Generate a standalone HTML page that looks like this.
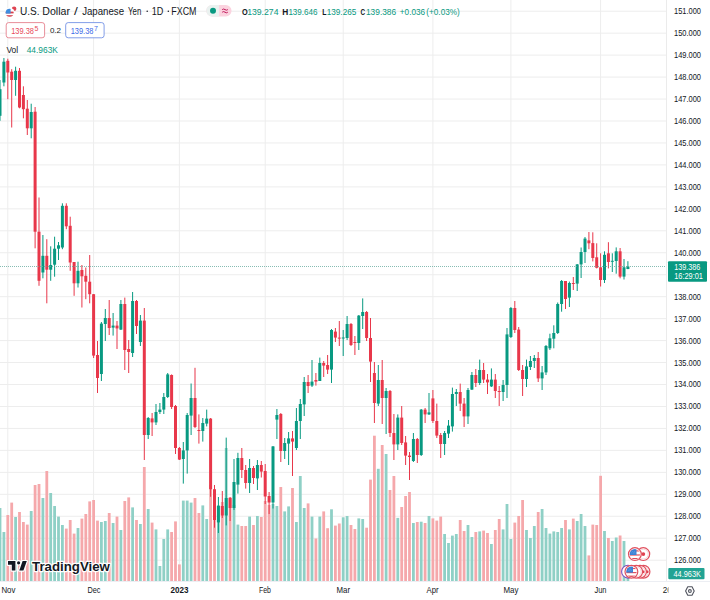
<!DOCTYPE html>
<html><head><meta charset="utf-8"><style>
html,body{margin:0;padding:0;background:#fff;}
body{width:710px;height:600px;overflow:hidden;font-family:"Liberation Sans",sans-serif;}
svg{display:block;font-family:"Liberation Sans",sans-serif;}
</style></head><body>
<svg width="710" height="600" viewBox="0 0 710 600">
<rect width="710" height="600" fill="#fff"/>
<g stroke="#ededed" stroke-width="1"><line x1="0" y1="560.2" x2="666.5" y2="560.2"/><line x1="0" y1="538.24" x2="666.5" y2="538.24"/><line x1="0" y1="516.28" x2="666.5" y2="516.28"/><line x1="0" y1="494.32" x2="666.5" y2="494.32"/><line x1="0" y1="472.36" x2="666.5" y2="472.36"/><line x1="0" y1="450.4" x2="666.5" y2="450.4"/><line x1="0" y1="428.44" x2="666.5" y2="428.44"/><line x1="0" y1="406.48" x2="666.5" y2="406.48"/><line x1="0" y1="384.52" x2="666.5" y2="384.52"/><line x1="0" y1="362.56" x2="666.5" y2="362.56"/><line x1="0" y1="340.6" x2="666.5" y2="340.6"/><line x1="0" y1="318.64" x2="666.5" y2="318.64"/><line x1="0" y1="296.68" x2="666.5" y2="296.68"/><line x1="0" y1="274.72" x2="666.5" y2="274.72"/><line x1="0" y1="252.76" x2="666.5" y2="252.76"/><line x1="0" y1="230.8" x2="666.5" y2="230.8"/><line x1="0" y1="208.84" x2="666.5" y2="208.84"/><line x1="0" y1="186.88" x2="666.5" y2="186.88"/><line x1="0" y1="164.92" x2="666.5" y2="164.92"/><line x1="0" y1="142.96" x2="666.5" y2="142.96"/><line x1="0" y1="121.0" x2="666.5" y2="121.0"/><line x1="0" y1="99.04" x2="666.5" y2="99.04"/><line x1="0" y1="77.08" x2="666.5" y2="77.08"/><line x1="0" y1="55.12" x2="666.5" y2="55.12"/><line x1="0" y1="33.16" x2="666.5" y2="33.16"/><line x1="0" y1="11.2" x2="666.5" y2="11.2"/><line x1="7.8" y1="0" x2="7.8" y2="581"/><line x1="93.6" y1="0" x2="93.6" y2="581"/><line x1="179.4" y1="0" x2="179.4" y2="581"/><line x1="265.2" y1="0" x2="265.2" y2="581"/><line x1="343.2" y1="0" x2="343.2" y2="581"/><line x1="432.9" y1="0" x2="432.9" y2="581"/><line x1="510.9" y1="0" x2="510.9" y2="581"/><line x1="600.6" y1="0" x2="600.6" y2="581"/></g>
<g><rect x="-1.40" y="508.0" width="2.8" height="73.0" fill="#8fd0c6"/><rect x="2.50" y="532.0" width="2.8" height="49.0" fill="#8fd0c6"/><rect x="6.40" y="515.0" width="2.8" height="66.0" fill="#f5a8ab"/><rect x="10.30" y="502.6" width="2.8" height="78.4" fill="#f5a8ab"/><rect x="14.20" y="517.0" width="2.8" height="64.0" fill="#8fd0c6"/><rect x="18.10" y="512.0" width="2.8" height="69.0" fill="#f5a8ab"/><rect x="22.00" y="522.0" width="2.8" height="59.0" fill="#f5a8ab"/><rect x="25.90" y="524.6" width="2.8" height="56.4" fill="#f5a8ab"/><rect x="29.80" y="511.0" width="2.8" height="70.0" fill="#8fd0c6"/><rect x="33.70" y="485.0" width="2.8" height="96.0" fill="#f5a8ab"/><rect x="37.60" y="484.0" width="2.8" height="97.0" fill="#f5a8ab"/><rect x="41.50" y="498.0" width="2.8" height="83.0" fill="#8fd0c6"/><rect x="45.40" y="471.0" width="2.8" height="110.0" fill="#f5a8ab"/><rect x="49.30" y="493.0" width="2.8" height="88.0" fill="#8fd0c6"/><rect x="53.20" y="506.0" width="2.8" height="75.0" fill="#8fd0c6"/><rect x="57.10" y="516.6" width="2.8" height="64.4" fill="#8fd0c6"/><rect x="61.00" y="525.0" width="2.8" height="56.0" fill="#8fd0c6"/><rect x="64.90" y="528.6" width="2.8" height="52.4" fill="#f5a8ab"/><rect x="68.80" y="520.0" width="2.8" height="61.0" fill="#f5a8ab"/><rect x="72.70" y="533.6" width="2.8" height="47.4" fill="#f5a8ab"/><rect x="76.60" y="528.0" width="2.8" height="53.0" fill="#8fd0c6"/><rect x="80.50" y="518.6" width="2.8" height="62.4" fill="#f5a8ab"/><rect x="84.40" y="514.0" width="2.8" height="67.0" fill="#f5a8ab"/><rect x="88.30" y="501.4" width="2.8" height="79.6" fill="#f5a8ab"/><rect x="92.20" y="500.0" width="2.8" height="81.0" fill="#f5a8ab"/><rect x="96.10" y="520.6" width="2.8" height="60.4" fill="#f5a8ab"/><rect x="100.00" y="522.0" width="2.8" height="59.0" fill="#8fd0c6"/><rect x="103.90" y="521.0" width="2.8" height="60.0" fill="#8fd0c6"/><rect x="107.80" y="513.0" width="2.8" height="68.0" fill="#f5a8ab"/><rect x="111.70" y="523.0" width="2.8" height="58.0" fill="#8fd0c6"/><rect x="115.60" y="516.6" width="2.8" height="64.4" fill="#f5a8ab"/><rect x="119.50" y="530.0" width="2.8" height="51.0" fill="#8fd0c6"/><rect x="123.40" y="501.0" width="2.8" height="80.0" fill="#f5a8ab"/><rect x="127.30" y="497.4" width="2.8" height="83.6" fill="#f5a8ab"/><rect x="131.20" y="507.4" width="2.8" height="73.6" fill="#8fd0c6"/><rect x="135.10" y="520.0" width="2.8" height="61.0" fill="#f5a8ab"/><rect x="139.00" y="524.0" width="2.8" height="57.0" fill="#8fd0c6"/><rect x="142.90" y="467.0" width="2.8" height="114.0" fill="#f5a8ab"/><rect x="146.80" y="509.0" width="2.8" height="72.0" fill="#8fd0c6"/><rect x="150.70" y="522.6" width="2.8" height="58.4" fill="#f5a8ab"/><rect x="154.60" y="529.4" width="2.8" height="51.6" fill="#8fd0c6"/><rect x="158.50" y="566.0" width="2.8" height="15.0" fill="#8fd0c6"/><rect x="162.40" y="539.0" width="2.8" height="42.0" fill="#8fd0c6"/><rect x="166.30" y="529.4" width="2.8" height="51.6" fill="#8fd0c6"/><rect x="170.20" y="532.0" width="2.8" height="49.0" fill="#f5a8ab"/><rect x="174.10" y="521.4" width="2.8" height="59.6" fill="#f5a8ab"/><rect x="178.00" y="564.4" width="2.8" height="16.6" fill="#f5a8ab"/><rect x="181.90" y="500.6" width="2.8" height="80.4" fill="#8fd0c6"/><rect x="185.80" y="500.6" width="2.8" height="80.4" fill="#8fd0c6"/><rect x="189.70" y="502.6" width="2.8" height="78.4" fill="#8fd0c6"/><rect x="193.60" y="498.0" width="2.8" height="83.0" fill="#f5a8ab"/><rect x="197.50" y="513.0" width="2.8" height="68.0" fill="#f5a8ab"/><rect x="201.40" y="505.4" width="2.8" height="75.6" fill="#8fd0c6"/><rect x="205.30" y="519.0" width="2.8" height="62.0" fill="#8fd0c6"/><rect x="209.20" y="485.0" width="2.8" height="96.0" fill="#f5a8ab"/><rect x="213.10" y="491.0" width="2.8" height="90.0" fill="#f5a8ab"/><rect x="217.00" y="505.0" width="2.8" height="76.0" fill="#8fd0c6"/><rect x="220.90" y="502.0" width="2.8" height="79.0" fill="#f5a8ab"/><rect x="224.80" y="448.0" width="2.8" height="133.0" fill="#8fd0c6"/><rect x="228.70" y="498.0" width="2.8" height="83.0" fill="#f5a8ab"/><rect x="232.60" y="505.0" width="2.8" height="76.0" fill="#8fd0c6"/><rect x="236.50" y="524.6" width="2.8" height="56.4" fill="#8fd0c6"/><rect x="240.40" y="526.0" width="2.8" height="55.0" fill="#f5a8ab"/><rect x="244.30" y="526.0" width="2.8" height="55.0" fill="#f5a8ab"/><rect x="248.20" y="516.6" width="2.8" height="64.4" fill="#8fd0c6"/><rect x="252.10" y="525.0" width="2.8" height="56.0" fill="#f5a8ab"/><rect x="256.00" y="516.0" width="2.8" height="65.0" fill="#8fd0c6"/><rect x="259.90" y="517.0" width="2.8" height="64.0" fill="#f5a8ab"/><rect x="263.80" y="501.0" width="2.8" height="80.0" fill="#f5a8ab"/><rect x="267.70" y="505.0" width="2.8" height="76.0" fill="#f5a8ab"/><rect x="271.60" y="504.0" width="2.8" height="77.0" fill="#8fd0c6"/><rect x="275.50" y="506.0" width="2.8" height="75.0" fill="#8fd0c6"/><rect x="279.40" y="487.0" width="2.8" height="94.0" fill="#f5a8ab"/><rect x="283.30" y="511.4" width="2.8" height="69.6" fill="#8fd0c6"/><rect x="287.20" y="506.4" width="2.8" height="74.6" fill="#8fd0c6"/><rect x="291.10" y="488.0" width="2.8" height="93.0" fill="#f5a8ab"/><rect x="295.00" y="522.0" width="2.8" height="59.0" fill="#8fd0c6"/><rect x="298.90" y="476.0" width="2.8" height="105.0" fill="#8fd0c6"/><rect x="302.80" y="508.0" width="2.8" height="73.0" fill="#8fd0c6"/><rect x="306.70" y="503.4" width="2.8" height="77.6" fill="#f5a8ab"/><rect x="310.60" y="516.6" width="2.8" height="64.4" fill="#8fd0c6"/><rect x="314.50" y="538.5" width="2.8" height="42.5" fill="#f5a8ab"/><rect x="318.40" y="516.6" width="2.8" height="64.4" fill="#8fd0c6"/><rect x="322.30" y="511.4" width="2.8" height="69.6" fill="#f5a8ab"/><rect x="326.20" y="528.2" width="2.8" height="52.8" fill="#f5a8ab"/><rect x="330.10" y="509.3" width="2.8" height="71.7" fill="#8fd0c6"/><rect x="334.00" y="525.6" width="2.8" height="55.4" fill="#f5a8ab"/><rect x="337.90" y="523.5" width="2.8" height="57.5" fill="#f5a8ab"/><rect x="341.80" y="517.3" width="2.8" height="63.7" fill="#8fd0c6"/><rect x="345.70" y="516.0" width="2.8" height="65.0" fill="#8fd0c6"/><rect x="349.60" y="525.0" width="2.8" height="56.0" fill="#f5a8ab"/><rect x="353.50" y="529.0" width="2.8" height="52.0" fill="#f5a8ab"/><rect x="357.40" y="518.4" width="2.8" height="62.6" fill="#8fd0c6"/><rect x="361.30" y="519.0" width="2.8" height="62.0" fill="#8fd0c6"/><rect x="365.20" y="527.7" width="2.8" height="53.3" fill="#f5a8ab"/><rect x="369.10" y="479.6" width="2.8" height="101.4" fill="#f5a8ab"/><rect x="373.00" y="435.7" width="2.8" height="145.3" fill="#f5a8ab"/><rect x="376.90" y="468.8" width="2.8" height="112.2" fill="#8fd0c6"/><rect x="380.80" y="445.0" width="2.8" height="136.0" fill="#f5a8ab"/><rect x="384.70" y="454.0" width="2.8" height="127.0" fill="#8fd0c6"/><rect x="388.60" y="490.0" width="2.8" height="91.0" fill="#f5a8ab"/><rect x="392.50" y="476.0" width="2.8" height="105.0" fill="#f5a8ab"/><rect x="396.40" y="517.9" width="2.8" height="63.1" fill="#8fd0c6"/><rect x="400.30" y="507.0" width="2.8" height="74.0" fill="#f5a8ab"/><rect x="404.20" y="496.0" width="2.8" height="85.0" fill="#f5a8ab"/><rect x="408.10" y="492.0" width="2.8" height="89.0" fill="#f5a8ab"/><rect x="412.00" y="523.0" width="2.8" height="58.0" fill="#8fd0c6"/><rect x="415.90" y="522.0" width="2.8" height="59.0" fill="#f5a8ab"/><rect x="419.80" y="521.7" width="2.8" height="59.3" fill="#8fd0c6"/><rect x="423.70" y="523.0" width="2.8" height="58.0" fill="#f5a8ab"/><rect x="427.60" y="516.0" width="2.8" height="65.0" fill="#8fd0c6"/><rect x="431.50" y="518.4" width="2.8" height="62.6" fill="#f5a8ab"/><rect x="435.40" y="520.6" width="2.8" height="60.4" fill="#f5a8ab"/><rect x="439.30" y="516.6" width="2.8" height="64.4" fill="#f5a8ab"/><rect x="443.20" y="534.0" width="2.8" height="47.0" fill="#8fd0c6"/><rect x="447.10" y="543.0" width="2.8" height="38.0" fill="#8fd0c6"/><rect x="451.00" y="535.6" width="2.8" height="45.4" fill="#8fd0c6"/><rect x="454.90" y="534.0" width="2.8" height="47.0" fill="#8fd0c6"/><rect x="458.80" y="520.0" width="2.8" height="61.0" fill="#f5a8ab"/><rect x="462.70" y="531.0" width="2.8" height="50.0" fill="#f5a8ab"/><rect x="466.60" y="525.0" width="2.8" height="56.0" fill="#8fd0c6"/><rect x="470.50" y="537.0" width="2.8" height="44.0" fill="#8fd0c6"/><rect x="474.40" y="532.0" width="2.8" height="49.0" fill="#f5a8ab"/><rect x="478.30" y="531.4" width="2.8" height="49.6" fill="#8fd0c6"/><rect x="482.20" y="530.6" width="2.8" height="50.4" fill="#f5a8ab"/><rect x="486.10" y="533.0" width="2.8" height="48.0" fill="#f5a8ab"/><rect x="490.00" y="544.0" width="2.8" height="37.0" fill="#8fd0c6"/><rect x="493.90" y="530.0" width="2.8" height="51.0" fill="#f5a8ab"/><rect x="497.80" y="519.0" width="2.8" height="62.0" fill="#f5a8ab"/><rect x="501.70" y="529.4" width="2.8" height="51.6" fill="#8fd0c6"/><rect x="505.60" y="504.0" width="2.8" height="77.0" fill="#8fd0c6"/><rect x="509.50" y="539.0" width="2.8" height="42.0" fill="#8fd0c6"/><rect x="513.40" y="522.6" width="2.8" height="58.4" fill="#f5a8ab"/><rect x="517.30" y="516.0" width="2.8" height="65.0" fill="#f5a8ab"/><rect x="521.20" y="500.0" width="2.8" height="81.0" fill="#f5a8ab"/><rect x="525.10" y="530.0" width="2.8" height="51.0" fill="#8fd0c6"/><rect x="529.00" y="538.0" width="2.8" height="43.0" fill="#8fd0c6"/><rect x="532.90" y="526.0" width="2.8" height="55.0" fill="#8fd0c6"/><rect x="536.80" y="512.0" width="2.8" height="69.0" fill="#f5a8ab"/><rect x="540.70" y="509.0" width="2.8" height="72.0" fill="#8fd0c6"/><rect x="544.60" y="528.0" width="2.8" height="53.0" fill="#8fd0c6"/><rect x="548.50" y="533.6" width="2.8" height="47.4" fill="#8fd0c6"/><rect x="552.40" y="531.4" width="2.8" height="49.6" fill="#8fd0c6"/><rect x="556.30" y="532.0" width="2.8" height="49.0" fill="#8fd0c6"/><rect x="560.20" y="528.0" width="2.8" height="53.0" fill="#8fd0c6"/><rect x="564.10" y="520.0" width="2.8" height="61.0" fill="#f5a8ab"/><rect x="568.00" y="529.4" width="2.8" height="51.6" fill="#8fd0c6"/><rect x="571.90" y="518.6" width="2.8" height="62.4" fill="#f5a8ab"/><rect x="575.80" y="521.0" width="2.8" height="60.0" fill="#8fd0c6"/><rect x="579.70" y="514.0" width="2.8" height="67.0" fill="#8fd0c6"/><rect x="583.60" y="526.0" width="2.8" height="55.0" fill="#8fd0c6"/><rect x="587.50" y="555.4" width="2.8" height="25.6" fill="#f5a8ab"/><rect x="591.40" y="524.6" width="2.8" height="56.4" fill="#f5a8ab"/><rect x="595.30" y="525.0" width="2.8" height="56.0" fill="#f5a8ab"/><rect x="599.20" y="475.8" width="2.8" height="105.2" fill="#f5a8ab"/><rect x="603.10" y="531.0" width="2.8" height="50.0" fill="#8fd0c6"/><rect x="607.00" y="538.0" width="2.8" height="43.0" fill="#f5a8ab"/><rect x="610.90" y="541.0" width="2.8" height="40.0" fill="#8fd0c6"/><rect x="614.80" y="537.5" width="2.8" height="43.5" fill="#8fd0c6"/><rect x="618.70" y="535.5" width="2.8" height="45.5" fill="#f5a8ab"/><rect x="622.60" y="541.0" width="2.8" height="40.0" fill="#8fd0c6"/><rect x="626.50" y="577.0" width="2.8" height="4.0" fill="#8fd0c6"/></g>
<g><rect x="-0.50" y="80.0" width="1" height="40.8" fill="#089981"/><rect x="-1.50" y="89.2" width="3" height="26.6" fill="#089981"/><rect x="3.40" y="58.0" width="1" height="28.3" fill="#089981"/><rect x="2.40" y="61.7" width="3" height="20.8" fill="#089981"/><rect x="7.30" y="58.7" width="1" height="40.5" fill="#e8374a"/><rect x="6.30" y="60.8" width="3" height="11.7" fill="#e8374a"/><rect x="11.20" y="69.2" width="1" height="58.3" fill="#e8374a"/><rect x="10.20" y="71.7" width="3" height="8.3" fill="#e8374a"/><rect x="15.10" y="66.7" width="1" height="29.1" fill="#089981"/><rect x="14.10" y="70.8" width="3" height="9.2" fill="#089981"/><rect x="19.00" y="68.0" width="1" height="40.3" fill="#e8374a"/><rect x="18.00" y="70.8" width="3" height="36.7" fill="#e8374a"/><rect x="22.90" y="86.3" width="1" height="32.0" fill="#e8374a"/><rect x="21.90" y="95.0" width="3" height="14.2" fill="#e8374a"/><rect x="26.80" y="100.0" width="1" height="35.0" fill="#e8374a"/><rect x="25.80" y="108.7" width="3" height="19.6" fill="#e8374a"/><rect x="30.70" y="103.7" width="1" height="34.6" fill="#089981"/><rect x="29.70" y="112.0" width="3" height="16.3" fill="#089981"/><rect x="34.60" y="107.0" width="1" height="141.3" fill="#e8374a"/><rect x="33.60" y="111.7" width="3" height="120.0" fill="#e8374a"/><rect x="38.50" y="197.5" width="1" height="88.3" fill="#e8374a"/><rect x="37.50" y="231.7" width="3" height="49.1" fill="#e8374a"/><rect x="42.40" y="235.0" width="1" height="43.3" fill="#089981"/><rect x="41.40" y="255.8" width="3" height="16.7" fill="#089981"/><rect x="46.30" y="239.2" width="1" height="64.1" fill="#e8374a"/><rect x="45.30" y="255.8" width="3" height="13.9" fill="#e8374a"/><rect x="50.20" y="246.3" width="1" height="34.5" fill="#089981"/><rect x="49.20" y="265.0" width="3" height="4.7" fill="#089981"/><rect x="54.10" y="236.7" width="1" height="40.0" fill="#089981"/><rect x="53.10" y="248.7" width="3" height="16.0" fill="#089981"/><rect x="58.00" y="242.0" width="1" height="18.0" fill="#089981"/><rect x="57.00" y="245.3" width="3" height="3.4" fill="#089981"/><rect x="61.90" y="203.3" width="1" height="45.9" fill="#089981"/><rect x="60.90" y="205.8" width="3" height="41.7" fill="#089981"/><rect x="65.80" y="203.3" width="1" height="25.9" fill="#e8374a"/><rect x="64.80" y="205.8" width="3" height="20.5" fill="#e8374a"/><rect x="69.70" y="216.7" width="1" height="54.1" fill="#e8374a"/><rect x="68.70" y="225.8" width="3" height="36.7" fill="#e8374a"/><rect x="73.60" y="262.0" width="1" height="33.8" fill="#e8374a"/><rect x="72.60" y="262.0" width="3" height="21.3" fill="#e8374a"/><rect x="77.50" y="261.7" width="1" height="25.8" fill="#089981"/><rect x="76.50" y="270.8" width="3" height="12.5" fill="#089981"/><rect x="81.40" y="265.0" width="1" height="42.5" fill="#e8374a"/><rect x="80.40" y="270.0" width="3" height="6.3" fill="#e8374a"/><rect x="85.30" y="267.5" width="1" height="31.7" fill="#e8374a"/><rect x="84.30" y="275.8" width="3" height="5.9" fill="#e8374a"/><rect x="89.20" y="255.0" width="1" height="48.3" fill="#e8374a"/><rect x="88.20" y="281.7" width="3" height="12.5" fill="#e8374a"/><rect x="93.10" y="294.0" width="1" height="64.0" fill="#e8374a"/><rect x="92.10" y="294.2" width="3" height="61.4" fill="#e8374a"/><rect x="97.00" y="341.0" width="1" height="52.0" fill="#e8374a"/><rect x="96.00" y="355.0" width="3" height="23.0" fill="#e8374a"/><rect x="100.90" y="322.0" width="1" height="59.0" fill="#089981"/><rect x="99.90" y="323.6" width="3" height="50.4" fill="#089981"/><rect x="104.80" y="309.0" width="1" height="32.0" fill="#089981"/><rect x="103.80" y="318.0" width="3" height="6.0" fill="#089981"/><rect x="108.70" y="300.0" width="1" height="35.0" fill="#e8374a"/><rect x="107.70" y="318.0" width="3" height="10.0" fill="#e8374a"/><rect x="112.60" y="313.0" width="1" height="22.6" fill="#089981"/><rect x="111.60" y="325.6" width="3" height="2.0" fill="#089981"/><rect x="116.50" y="321.0" width="1" height="28.0" fill="#e8374a"/><rect x="115.50" y="325.6" width="3" height="2.8" fill="#e8374a"/><rect x="120.40" y="300.0" width="1" height="30.0" fill="#089981"/><rect x="119.40" y="304.0" width="3" height="25.6" fill="#089981"/><rect x="124.30" y="297.6" width="1" height="72.4" fill="#e8374a"/><rect x="123.30" y="304.0" width="3" height="46.0" fill="#e8374a"/><rect x="128.20" y="340.0" width="1" height="33.0" fill="#e8374a"/><rect x="127.20" y="349.0" width="3" height="3.0" fill="#e8374a"/><rect x="132.10" y="292.0" width="1" height="65.0" fill="#089981"/><rect x="131.10" y="301.0" width="3" height="52.0" fill="#089981"/><rect x="136.00" y="300.0" width="1" height="34.0" fill="#e8374a"/><rect x="135.00" y="301.0" width="3" height="25.0" fill="#e8374a"/><rect x="139.90" y="315.0" width="1" height="31.0" fill="#089981"/><rect x="138.90" y="320.6" width="3" height="21.4" fill="#089981"/><rect x="143.80" y="308.0" width="1" height="152.0" fill="#e8374a"/><rect x="142.80" y="320.6" width="3" height="114.4" fill="#e8374a"/><rect x="147.70" y="417.0" width="1" height="22.0" fill="#089981"/><rect x="146.70" y="418.0" width="3" height="17.0" fill="#089981"/><rect x="151.60" y="413.0" width="1" height="23.0" fill="#e8374a"/><rect x="150.60" y="418.4" width="3" height="4.0" fill="#e8374a"/><rect x="155.50" y="404.0" width="1" height="21.0" fill="#089981"/><rect x="154.50" y="412.0" width="3" height="10.4" fill="#089981"/><rect x="159.40" y="403.0" width="1" height="11.0" fill="#089981"/><rect x="158.40" y="409.6" width="3" height="2.4" fill="#089981"/><rect x="163.30" y="393.0" width="1" height="21.0" fill="#089981"/><rect x="162.30" y="397.0" width="3" height="12.6" fill="#089981"/><rect x="167.20" y="373.0" width="1" height="25.0" fill="#089981"/><rect x="166.20" y="374.4" width="3" height="22.6" fill="#089981"/><rect x="171.10" y="374.4" width="1" height="34.6" fill="#e8374a"/><rect x="170.10" y="375.0" width="3" height="32.0" fill="#e8374a"/><rect x="175.00" y="405.0" width="1" height="49.0" fill="#e8374a"/><rect x="174.00" y="406.0" width="3" height="42.0" fill="#e8374a"/><rect x="178.90" y="447.0" width="1" height="13.0" fill="#e8374a"/><rect x="177.90" y="448.0" width="3" height="11.6" fill="#e8374a"/><rect x="182.80" y="442.0" width="1" height="41.6" fill="#089981"/><rect x="181.80" y="450.4" width="3" height="8.6" fill="#089981"/><rect x="186.70" y="413.0" width="1" height="60.6" fill="#089981"/><rect x="185.70" y="415.0" width="3" height="35.4" fill="#089981"/><rect x="190.60" y="383.5" width="1" height="51.5" fill="#089981"/><rect x="189.60" y="398.0" width="3" height="17.6" fill="#089981"/><rect x="194.50" y="367.8" width="1" height="60.2" fill="#e8374a"/><rect x="193.50" y="398.0" width="3" height="29.0" fill="#e8374a"/><rect x="198.40" y="414.4" width="1" height="29.2" fill="#e8374a"/><rect x="197.40" y="430.0" width="3" height="1.0" fill="#e8374a"/><rect x="202.30" y="418.0" width="1" height="23.6" fill="#089981"/><rect x="201.30" y="423.0" width="3" height="8.0" fill="#089981"/><rect x="206.20" y="409.6" width="1" height="16.8" fill="#089981"/><rect x="205.20" y="418.6" width="3" height="5.0" fill="#089981"/><rect x="210.10" y="418.0" width="1" height="78.8" fill="#e8374a"/><rect x="209.10" y="418.6" width="3" height="70.6" fill="#e8374a"/><rect x="214.00" y="485.0" width="1" height="42.7" fill="#e8374a"/><rect x="213.00" y="489.2" width="3" height="30.8" fill="#e8374a"/><rect x="217.90" y="497.0" width="1" height="36.0" fill="#089981"/><rect x="216.90" y="506.0" width="3" height="16.4" fill="#089981"/><rect x="221.80" y="491.0" width="1" height="27.0" fill="#e8374a"/><rect x="220.80" y="506.0" width="3" height="9.5" fill="#e8374a"/><rect x="225.70" y="437.6" width="1" height="87.8" fill="#089981"/><rect x="224.70" y="498.0" width="3" height="17.5" fill="#089981"/><rect x="229.60" y="497.0" width="1" height="24.0" fill="#e8374a"/><rect x="228.60" y="497.7" width="3" height="10.3" fill="#e8374a"/><rect x="233.50" y="459.0" width="1" height="51.0" fill="#089981"/><rect x="232.50" y="482.0" width="3" height="26.0" fill="#089981"/><rect x="237.40" y="452.8" width="1" height="40.8" fill="#089981"/><rect x="236.40" y="458.0" width="3" height="26.6" fill="#089981"/><rect x="241.30" y="448.0" width="1" height="30.0" fill="#e8374a"/><rect x="240.30" y="458.0" width="3" height="12.0" fill="#e8374a"/><rect x="245.20" y="465.0" width="1" height="23.6" fill="#e8374a"/><rect x="244.20" y="470.0" width="3" height="13.0" fill="#e8374a"/><rect x="249.10" y="459.0" width="1" height="34.0" fill="#089981"/><rect x="248.10" y="468.0" width="3" height="15.0" fill="#089981"/><rect x="253.00" y="466.0" width="1" height="18.0" fill="#e8374a"/><rect x="252.00" y="468.0" width="3" height="10.0" fill="#e8374a"/><rect x="256.90" y="460.0" width="1" height="30.0" fill="#089981"/><rect x="255.90" y="465.0" width="3" height="13.4" fill="#089981"/><rect x="260.80" y="461.0" width="1" height="16.5" fill="#e8374a"/><rect x="259.80" y="465.0" width="3" height="6.6" fill="#e8374a"/><rect x="264.70" y="464.0" width="1" height="40.0" fill="#e8374a"/><rect x="263.70" y="471.0" width="3" height="25.5" fill="#e8374a"/><rect x="268.60" y="492.0" width="1" height="22.0" fill="#e8374a"/><rect x="267.60" y="496.0" width="3" height="6.5" fill="#e8374a"/><rect x="272.50" y="446.0" width="1" height="62.5" fill="#089981"/><rect x="271.50" y="446.4" width="3" height="56.1" fill="#089981"/><rect x="276.40" y="409.0" width="1" height="30.0" fill="#089981"/><rect x="275.40" y="415.0" width="3" height="4.6" fill="#089981"/><rect x="280.30" y="413.0" width="1" height="49.0" fill="#e8374a"/><rect x="279.30" y="414.0" width="3" height="37.0" fill="#e8374a"/><rect x="284.20" y="438.0" width="1" height="21.0" fill="#089981"/><rect x="283.20" y="443.0" width="3" height="8.0" fill="#089981"/><rect x="288.10" y="432.0" width="1" height="33.0" fill="#089981"/><rect x="287.10" y="438.4" width="3" height="5.2" fill="#089981"/><rect x="292.00" y="431.0" width="1" height="45.0" fill="#e8374a"/><rect x="291.00" y="438.4" width="3" height="3.2" fill="#e8374a"/><rect x="295.90" y="408.0" width="1" height="42.0" fill="#089981"/><rect x="294.90" y="421.0" width="3" height="27.0" fill="#089981"/><rect x="299.80" y="399.0" width="1" height="40.0" fill="#089981"/><rect x="298.80" y="404.0" width="3" height="17.0" fill="#089981"/><rect x="303.70" y="377.0" width="1" height="39.0" fill="#089981"/><rect x="302.70" y="382.0" width="3" height="22.4" fill="#089981"/><rect x="307.60" y="375.0" width="1" height="18.0" fill="#e8374a"/><rect x="306.60" y="382.0" width="3" height="4.0" fill="#e8374a"/><rect x="311.50" y="360.0" width="1" height="27.0" fill="#089981"/><rect x="310.50" y="381.6" width="3" height="4.0" fill="#089981"/><rect x="315.40" y="373.0" width="1" height="12.6" fill="#e8374a"/><rect x="314.40" y="380.0" width="3" height="1.6" fill="#e8374a"/><rect x="319.30" y="357.6" width="1" height="23.4" fill="#089981"/><rect x="318.30" y="363.0" width="3" height="18.0" fill="#089981"/><rect x="323.20" y="361.0" width="1" height="16.0" fill="#e8374a"/><rect x="322.20" y="363.0" width="3" height="2.6" fill="#e8374a"/><rect x="327.10" y="355.0" width="1" height="19.0" fill="#e8374a"/><rect x="326.10" y="365.0" width="3" height="4.6" fill="#e8374a"/><rect x="331.00" y="329.0" width="1" height="54.0" fill="#089981"/><rect x="330.00" y="330.0" width="3" height="39.6" fill="#089981"/><rect x="334.90" y="328.0" width="1" height="14.0" fill="#e8374a"/><rect x="333.90" y="331.6" width="3" height="6.0" fill="#e8374a"/><rect x="338.80" y="321.0" width="1" height="25.0" fill="#e8374a"/><rect x="337.80" y="337.6" width="3" height="1.0" fill="#e8374a"/><rect x="342.70" y="330.0" width="1" height="26.0" fill="#089981"/><rect x="341.70" y="337.5" width="3" height="1.0" fill="#089981"/><rect x="346.60" y="316.0" width="1" height="24.0" fill="#089981"/><rect x="345.60" y="324.0" width="3" height="14.0" fill="#089981"/><rect x="350.50" y="323.0" width="1" height="23.0" fill="#e8374a"/><rect x="349.50" y="324.0" width="3" height="21.0" fill="#e8374a"/><rect x="354.40" y="336.0" width="1" height="19.0" fill="#e8374a"/><rect x="353.40" y="342.0" width="3" height="1.0" fill="#e8374a"/><rect x="358.30" y="315.0" width="1" height="35.0" fill="#089981"/><rect x="357.30" y="315.6" width="3" height="27.4" fill="#089981"/><rect x="362.20" y="298.4" width="1" height="30.6" fill="#089981"/><rect x="361.20" y="312.0" width="3" height="4.0" fill="#089981"/><rect x="366.10" y="311.0" width="1" height="30.0" fill="#e8374a"/><rect x="365.10" y="312.0" width="3" height="26.0" fill="#e8374a"/><rect x="370.00" y="318.0" width="1" height="64.0" fill="#e8374a"/><rect x="369.00" y="338.0" width="3" height="23.6" fill="#e8374a"/><rect x="373.90" y="362.0" width="1" height="61.0" fill="#e8374a"/><rect x="372.90" y="373.0" width="3" height="30.0" fill="#e8374a"/><rect x="377.80" y="365.0" width="1" height="41.0" fill="#089981"/><rect x="376.80" y="380.0" width="3" height="23.6" fill="#089981"/><rect x="381.70" y="360.0" width="1" height="64.0" fill="#e8374a"/><rect x="380.70" y="380.0" width="3" height="18.0" fill="#e8374a"/><rect x="385.60" y="388.0" width="1" height="46.0" fill="#089981"/><rect x="384.60" y="391.0" width="3" height="7.0" fill="#089981"/><rect x="389.50" y="390.0" width="1" height="47.0" fill="#e8374a"/><rect x="388.50" y="391.0" width="3" height="42.0" fill="#e8374a"/><rect x="393.40" y="414.0" width="1" height="46.0" fill="#e8374a"/><rect x="392.40" y="433.0" width="3" height="11.4" fill="#e8374a"/><rect x="397.30" y="414.4" width="1" height="35.6" fill="#089981"/><rect x="396.30" y="417.6" width="3" height="26.8" fill="#089981"/><rect x="401.20" y="406.0" width="1" height="39.0" fill="#e8374a"/><rect x="400.20" y="417.6" width="3" height="25.4" fill="#e8374a"/><rect x="405.10" y="436.0" width="1" height="29.0" fill="#e8374a"/><rect x="404.10" y="442.4" width="3" height="13.2" fill="#e8374a"/><rect x="409.00" y="452.0" width="1" height="28.0" fill="#e8374a"/><rect x="408.00" y="455.6" width="3" height="1.4" fill="#e8374a"/><rect x="412.90" y="433.0" width="1" height="29.0" fill="#089981"/><rect x="411.90" y="439.0" width="3" height="22.0" fill="#089981"/><rect x="416.80" y="438.0" width="1" height="25.0" fill="#e8374a"/><rect x="415.80" y="439.0" width="3" height="16.0" fill="#e8374a"/><rect x="420.70" y="409.0" width="1" height="47.0" fill="#089981"/><rect x="419.70" y="409.6" width="3" height="45.4" fill="#089981"/><rect x="424.60" y="408.0" width="1" height="15.0" fill="#e8374a"/><rect x="423.60" y="409.6" width="3" height="4.8" fill="#e8374a"/><rect x="428.50" y="393.0" width="1" height="22.0" fill="#089981"/><rect x="427.50" y="412.4" width="3" height="2.0" fill="#089981"/><rect x="432.40" y="390.0" width="1" height="33.0" fill="#e8374a"/><rect x="431.40" y="398.4" width="3" height="22.6" fill="#e8374a"/><rect x="436.30" y="403.6" width="1" height="34.4" fill="#e8374a"/><rect x="435.30" y="421.0" width="3" height="14.6" fill="#e8374a"/><rect x="440.20" y="433.0" width="1" height="25.0" fill="#e8374a"/><rect x="439.20" y="435.0" width="3" height="9.0" fill="#e8374a"/><rect x="444.10" y="431.0" width="1" height="24.0" fill="#089981"/><rect x="443.10" y="433.0" width="3" height="11.0" fill="#089981"/><rect x="448.00" y="420.0" width="1" height="18.0" fill="#089981"/><rect x="447.00" y="425.6" width="3" height="8.0" fill="#089981"/><rect x="451.90" y="387.6" width="1" height="44.0" fill="#089981"/><rect x="450.90" y="394.0" width="3" height="32.4" fill="#089981"/><rect x="455.80" y="389.0" width="1" height="17.0" fill="#089981"/><rect x="454.80" y="392.0" width="3" height="2.0" fill="#089981"/><rect x="459.70" y="383.6" width="1" height="27.4" fill="#e8374a"/><rect x="458.70" y="392.0" width="3" height="11.6" fill="#e8374a"/><rect x="463.60" y="398.0" width="1" height="29.0" fill="#e8374a"/><rect x="462.60" y="403.6" width="3" height="12.8" fill="#e8374a"/><rect x="467.50" y="388.0" width="1" height="36.0" fill="#089981"/><rect x="466.50" y="390.0" width="3" height="26.4" fill="#089981"/><rect x="471.40" y="372.0" width="1" height="18.0" fill="#089981"/><rect x="470.40" y="375.0" width="3" height="14.6" fill="#089981"/><rect x="475.30" y="369.0" width="1" height="18.0" fill="#e8374a"/><rect x="474.30" y="375.0" width="3" height="8.0" fill="#e8374a"/><rect x="479.20" y="359.6" width="1" height="25.4" fill="#089981"/><rect x="478.20" y="370.0" width="3" height="13.0" fill="#089981"/><rect x="483.10" y="363.0" width="1" height="20.0" fill="#e8374a"/><rect x="482.10" y="370.0" width="3" height="9.6" fill="#e8374a"/><rect x="487.00" y="374.0" width="1" height="20.0" fill="#e8374a"/><rect x="486.00" y="379.6" width="3" height="2.8" fill="#e8374a"/><rect x="490.90" y="368.4" width="1" height="18.6" fill="#089981"/><rect x="489.90" y="379.6" width="3" height="6.8" fill="#089981"/><rect x="494.80" y="374.0" width="1" height="24.0" fill="#e8374a"/><rect x="493.80" y="379.6" width="3" height="11.4" fill="#e8374a"/><rect x="498.70" y="386.0" width="1" height="20.0" fill="#e8374a"/><rect x="497.70" y="391.0" width="3" height="1.0" fill="#e8374a"/><rect x="502.60" y="380.0" width="1" height="21.0" fill="#089981"/><rect x="501.60" y="385.0" width="3" height="7.0" fill="#089981"/><rect x="506.50" y="328.0" width="1" height="70.0" fill="#089981"/><rect x="505.50" y="334.4" width="3" height="50.6" fill="#089981"/><rect x="510.40" y="307.0" width="1" height="31.0" fill="#089981"/><rect x="509.40" y="308.0" width="3" height="29.0" fill="#089981"/><rect x="514.30" y="301.0" width="1" height="32.0" fill="#e8374a"/><rect x="513.30" y="308.0" width="3" height="22.0" fill="#e8374a"/><rect x="518.20" y="327.0" width="1" height="44.0" fill="#e8374a"/><rect x="517.20" y="329.6" width="3" height="40.4" fill="#e8374a"/><rect x="522.10" y="365.0" width="1" height="31.0" fill="#e8374a"/><rect x="521.10" y="370.0" width="3" height="9.0" fill="#e8374a"/><rect x="526.00" y="359.6" width="1" height="27.4" fill="#089981"/><rect x="525.00" y="366.4" width="3" height="12.6" fill="#089981"/><rect x="529.90" y="356.0" width="1" height="14.0" fill="#089981"/><rect x="528.90" y="361.0" width="3" height="6.0" fill="#089981"/><rect x="533.80" y="355.0" width="1" height="13.0" fill="#089981"/><rect x="532.80" y="358.0" width="3" height="3.0" fill="#089981"/><rect x="537.70" y="352.0" width="1" height="30.0" fill="#e8374a"/><rect x="536.70" y="358.0" width="3" height="20.4" fill="#e8374a"/><rect x="541.60" y="366.0" width="1" height="24.0" fill="#089981"/><rect x="540.60" y="372.4" width="3" height="6.0" fill="#089981"/><rect x="545.50" y="345.0" width="1" height="30.0" fill="#089981"/><rect x="544.50" y="346.0" width="3" height="26.4" fill="#089981"/><rect x="549.40" y="333.7" width="1" height="16.3" fill="#089981"/><rect x="548.40" y="338.3" width="3" height="10.0" fill="#089981"/><rect x="553.30" y="325.3" width="1" height="23.0" fill="#089981"/><rect x="552.30" y="333.0" width="3" height="5.7" fill="#089981"/><rect x="557.20" y="302.5" width="1" height="31.5" fill="#089981"/><rect x="556.20" y="304.0" width="3" height="29.0" fill="#089981"/><rect x="561.10" y="280.0" width="1" height="31.7" fill="#089981"/><rect x="560.10" y="281.0" width="3" height="23.0" fill="#089981"/><rect x="565.00" y="281.0" width="1" height="28.0" fill="#e8374a"/><rect x="564.00" y="281.0" width="3" height="18.0" fill="#e8374a"/><rect x="568.90" y="281.6" width="1" height="25.4" fill="#089981"/><rect x="567.90" y="283.0" width="3" height="14.6" fill="#089981"/><rect x="572.80" y="277.0" width="1" height="13.0" fill="#e8374a"/><rect x="571.80" y="283.0" width="3" height="1.0" fill="#e8374a"/><rect x="576.70" y="264.0" width="1" height="27.0" fill="#089981"/><rect x="575.70" y="264.4" width="3" height="19.2" fill="#089981"/><rect x="580.60" y="247.5" width="1" height="30.5" fill="#089981"/><rect x="579.60" y="252.0" width="3" height="12.4" fill="#089981"/><rect x="584.50" y="237.0" width="1" height="26.0" fill="#089981"/><rect x="583.50" y="238.6" width="3" height="13.4" fill="#089981"/><rect x="588.40" y="232.0" width="1" height="17.2" fill="#e8374a"/><rect x="587.40" y="240.4" width="3" height="2.9" fill="#e8374a"/><rect x="592.30" y="232.3" width="1" height="29.1" fill="#e8374a"/><rect x="591.30" y="243.1" width="3" height="14.9" fill="#e8374a"/><rect x="596.20" y="243.3" width="1" height="25.1" fill="#e8374a"/><rect x="595.20" y="257.3" width="3" height="10.5" fill="#e8374a"/><rect x="600.10" y="253.3" width="1" height="33.2" fill="#e8374a"/><rect x="599.10" y="267.3" width="3" height="12.7" fill="#e8374a"/><rect x="604.00" y="251.3" width="1" height="31.7" fill="#089981"/><rect x="603.00" y="254.8" width="3" height="25.2" fill="#089981"/><rect x="607.90" y="242.2" width="1" height="26.2" fill="#e8374a"/><rect x="606.90" y="253.3" width="3" height="8.7" fill="#e8374a"/><rect x="611.80" y="253.3" width="1" height="18.7" fill="#089981"/><rect x="610.80" y="260.8" width="3" height="1.0" fill="#089981"/><rect x="615.70" y="247.4" width="1" height="26.3" fill="#089981"/><rect x="614.70" y="251.3" width="3" height="9.7" fill="#089981"/><rect x="619.60" y="248.0" width="1" height="30.3" fill="#e8374a"/><rect x="618.60" y="251.3" width="3" height="25.3" fill="#e8374a"/><rect x="623.50" y="259.0" width="1" height="20.5" fill="#089981"/><rect x="622.50" y="267.3" width="3" height="9.3" fill="#089981"/><rect x="627.40" y="261.2" width="1" height="8.0" fill="#089981"/><rect x="626.40" y="266.5" width="3" height="2.5" fill="#089981"/></g>
<line x1="0" y1="266.5" x2="666.5" y2="266.5" stroke="#5fa59a" stroke-opacity="0.75" stroke-width="1" stroke-dasharray="1,1"/>
<line x1="666.5" y1="0" x2="666.5" y2="581" stroke="#ebebeb" stroke-width="1"/>
<line x1="0" y1="581.5" x2="710" y2="581.5" stroke="#eceef3" stroke-width="1"/>
<g font-size="8.4" fill="#131722"><text x="674" y="563.1" textLength="27" lengthAdjust="spacingAndGlyphs">126.000</text><text x="674" y="541.1" textLength="27" lengthAdjust="spacingAndGlyphs">127.000</text><text x="674" y="519.2" textLength="27" lengthAdjust="spacingAndGlyphs">128.000</text><text x="674" y="497.2" textLength="27" lengthAdjust="spacingAndGlyphs">129.000</text><text x="674" y="475.3" textLength="27" lengthAdjust="spacingAndGlyphs">130.000</text><text x="674" y="453.3" textLength="27" lengthAdjust="spacingAndGlyphs">131.000</text><text x="674" y="431.3" textLength="27" lengthAdjust="spacingAndGlyphs">132.000</text><text x="674" y="409.4" textLength="27" lengthAdjust="spacingAndGlyphs">133.000</text><text x="674" y="387.4" textLength="27" lengthAdjust="spacingAndGlyphs">134.000</text><text x="674" y="365.5" textLength="27" lengthAdjust="spacingAndGlyphs">135.000</text><text x="674" y="343.5" textLength="27" lengthAdjust="spacingAndGlyphs">136.000</text><text x="674" y="321.5" textLength="27" lengthAdjust="spacingAndGlyphs">137.000</text><text x="674" y="299.6" textLength="27" lengthAdjust="spacingAndGlyphs">138.000</text><text x="674" y="255.7" textLength="27" lengthAdjust="spacingAndGlyphs">140.000</text><text x="674" y="233.7" textLength="27" lengthAdjust="spacingAndGlyphs">141.000</text><text x="674" y="211.7" textLength="27" lengthAdjust="spacingAndGlyphs">142.000</text><text x="674" y="189.8" textLength="27" lengthAdjust="spacingAndGlyphs">143.000</text><text x="674" y="167.8" textLength="27" lengthAdjust="spacingAndGlyphs">144.000</text><text x="674" y="145.9" textLength="27" lengthAdjust="spacingAndGlyphs">145.000</text><text x="674" y="123.9" textLength="27" lengthAdjust="spacingAndGlyphs">146.000</text><text x="674" y="101.9" textLength="27" lengthAdjust="spacingAndGlyphs">147.000</text><text x="674" y="80.0" textLength="27" lengthAdjust="spacingAndGlyphs">148.000</text><text x="674" y="58.0" textLength="27" lengthAdjust="spacingAndGlyphs">149.000</text><text x="674" y="36.1" textLength="27" lengthAdjust="spacingAndGlyphs">150.000</text><text x="674" y="14.1" textLength="27" lengthAdjust="spacingAndGlyphs">151.000</text></g>
<rect x="668" y="261.3" width="39" height="20.4" rx="1" fill="#089981"/>
<text x="674.2" y="269.8" font-size="8.4" fill="#fff" textLength="26.2" lengthAdjust="spacingAndGlyphs">139.386</text>
<text x="674.2" y="279.2" font-size="8.4" fill="#fff" textLength="28.8" lengthAdjust="spacingAndGlyphs">16:29:01</text>
<rect x="668.3" y="568.1" width="36.2" height="11.2" rx="1" fill="#22a393"/>
<text x="673.5" y="576.8" font-size="8.4" fill="#fff" textLength="27.5" lengthAdjust="spacingAndGlyphs">44.963K</text>
<g font-size="8.4" fill="#131722">
<text x="1.4" y="593" textLength="14" lengthAdjust="spacingAndGlyphs">Nov</text>
<text x="87.5" y="593" textLength="13" lengthAdjust="spacingAndGlyphs">Dec</text>
<text x="170.5" y="593" font-weight="bold" textLength="18" lengthAdjust="spacingAndGlyphs">2023</text>
<text x="259" y="593" textLength="12" lengthAdjust="spacingAndGlyphs">Feb</text>
<text x="336.5" y="593" textLength="13.5" lengthAdjust="spacingAndGlyphs">Mar</text>
<text x="426.5" y="593" textLength="12" lengthAdjust="spacingAndGlyphs">Apr</text>
<text x="503.5" y="593" textLength="15" lengthAdjust="spacingAndGlyphs">May</text>
<text x="594.5" y="593" textLength="12" lengthAdjust="spacingAndGlyphs">Jun</text>
</g>

<!-- TV logo -->
<g stroke="#fff" stroke-width="2.4" stroke-linejoin="round" fill="#fff">
<path d="M8 561.1 H15.4 V570.6 H11.8 V564.7 H8 Z"/><circle cx="18.6" cy="562.8" r="1.6"/><path d="M22.6 561.1 H26.8 L23.4 570.6 H19.3 Z"/>
<text x="32.1" y="570.6" font-size="13" font-weight="bold" textLength="77.8" lengthAdjust="spacingAndGlyphs">TradingView</text>
</g>
<g fill="#131722">
<path d="M8 561.1 H15.4 V570.6 H11.8 V564.7 H8 Z"/><circle cx="18.6" cy="562.8" r="1.6"/><path d="M22.6 561.1 H26.8 L23.4 570.6 H19.3 Z"/>
<text x="32.1" y="570.6" font-size="13" font-weight="bold" textLength="77.8" lengthAdjust="spacingAndGlyphs">TradingView</text>
</g>
<!-- events -->
<defs>
<clipPath id="us1"><circle cx="0" cy="0" r="5.2"/></clipPath>
<g id="ring"><circle r="6.4" fill="#fff" stroke="#e0505e" stroke-width="1.2"/><circle r="4.9" fill="none" stroke="#f4c4c9" stroke-width="0.7"/></g>
<g id="usf"><use href="#ring"/>
<g clip-path="url(#us1)"><rect x="-6" y="-6" width="12" height="12" fill="#fff"/><rect x="-6" y="-3.8" width="12" height="1.2" fill="#e0505e"/><rect x="-6" y="0.3" width="12" height="1.2" fill="#e0505e"/><rect x="-6" y="3.9" width="12" height="1.4" fill="#e0505e"/><rect x="-6" y="-6" width="7.6" height="6.9" fill="#3b82d6"/>
<g fill="#a9cdf3"><circle cx="-3" cy="-1.2" r="0.35"/><circle cx="-1.5" cy="-1.2" r="0.35"/><circle cx="0" cy="-1.2" r="0.35"/><circle cx="-2.2" cy="-2.6" r="0.35"/><circle cx="-0.7" cy="-2.6" r="0.35"/></g></g></g>
<g id="jpf"><use href="#ring"/><circle r="1.9" fill="#e0414f"/></g>
</defs>
<use href="#jpf" x="643.3" y="554.1"/>
<use href="#usf" x="634.9" y="554.1"/>
<use href="#ring" x="643.5" y="571.7"/>
<circle cx="647" cy="571.7" r="1.5" fill="#e0414f"/>
<use href="#ring" x="640" y="571.7"/>
<circle cx="643" cy="571.7" r="1.5" fill="#e0414f"/>
<use href="#ring" x="636.2" y="571.7"/>
<circle cx="628" cy="571.7" r="6.4" fill="#fff" stroke="#7a4fc0" stroke-width="1.1"/>
<use href="#usf" x="631.4" y="571.7"/>
<!-- gear -->
<path d="M685.6 591 L687.75 586.8 L692.05 586.8 L694.2 591 L692.05 595.2 L687.75 595.2 Z" fill="none" stroke="#50535e" stroke-width="1.1" stroke-linejoin="round"/>
<circle cx="689.9" cy="591" r="1.4" fill="none" stroke="#50535e" stroke-width="1.1"/>
<svg x="655" y="582" width="13.5" height="18" overflow="hidden"><text x="7.7" y="11" font-size="8.4" fill="#131722" textLength="9" lengthAdjust="spacingAndGlyphs">26</text></svg>
<!-- legend -->
<g font-size="10.4" fill="#131722"><text x="20.05" y="14.8" textLength="19.56" lengthAdjust="spacingAndGlyphs">U.S.</text><text x="42.25" y="14.8" textLength="27.67" lengthAdjust="spacingAndGlyphs">Dollar</text><text x="73.90" y="14.8" textLength="3.77" lengthAdjust="spacingAndGlyphs">/</text><text x="82.16" y="14.8" textLength="41.85" lengthAdjust="spacingAndGlyphs">Japanese</text><text x="128.04" y="14.8" textLength="13.25" lengthAdjust="spacingAndGlyphs">Yen</text><text x="151.82" y="14.8" textLength="11.62" lengthAdjust="spacingAndGlyphs">1D</text><text x="171.29" y="14.8" textLength="25.15" lengthAdjust="spacingAndGlyphs">FXCM</text><circle cx="147.2" cy="11.3" r="0.75"/><circle cx="168.3" cy="11.3" r="0.75"/></g>
<circle cx="14.1" cy="8.7" r="2.3" fill="#df4452"/>
<circle cx="9.65" cy="12.8" r="5" fill="#fff"/>
<clipPath id="fc"><circle cx="9.65" cy="12.8" r="4"/></clipPath>
<g clip-path="url(#fc)"><rect x="5" y="8" width="10" height="10" fill="#fff"/>
<rect x="5" y="11.6" width="10" height="1.8" fill="#d8404c"/><rect x="5" y="15.2" width="10" height="2" fill="#d8404c"/>
<rect x="5" y="8" width="5.6" height="5.6" fill="#3f8de0"/></g>
<rect x="206.3" y="5.1" width="25.2" height="11.3" rx="5.65" fill="#fbd3df"/>
<path d="M211.95 5.1 H219.2 V16.4 H211.95 A5.65 5.65 0 0 1 211.95 5.1 Z" fill="#eaf2f0"/>
<circle cx="213" cy="10.75" r="3" fill="#089981"/>
<path d="M222.2 9.6 q1.4 -1.2 2.8 0 t2.8 0 M222.2 12.2 q1.4 -1.2 2.8 0 t2.8 0" fill="none" stroke="#c2185b" stroke-width="1"/>
<g font-size="8.4"><text x="242.01" y="15" fill="#131722" font-weight="bold" textLength="5.71" lengthAdjust="spacingAndGlyphs">O</text><text x="247.15" y="15" fill="#089981" textLength="31.37" lengthAdjust="spacingAndGlyphs">139.274</text><text x="282.26" y="15" fill="#131722" font-weight="bold" textLength="6.00" lengthAdjust="spacingAndGlyphs">H</text><text x="288.40" y="15" fill="#089981" textLength="29.13" lengthAdjust="spacingAndGlyphs">139.646</text><text x="322.15" y="15" fill="#131722" font-weight="bold" textLength="4.27" lengthAdjust="spacingAndGlyphs">L</text><text x="326.68" y="15" fill="#089981" textLength="29.64" lengthAdjust="spacingAndGlyphs">139.265</text><text x="360.44" y="15" fill="#131722" font-weight="bold" textLength="4.63" lengthAdjust="spacingAndGlyphs">C</text><text x="365.97" y="15" fill="#089981" textLength="30.16" lengthAdjust="spacingAndGlyphs">139.386</text><text x="399.79" y="15" fill="#089981" textLength="25.35" lengthAdjust="spacingAndGlyphs">+0.036</text><text x="426.31" y="15" fill="#089981" textLength="33.49" lengthAdjust="spacingAndGlyphs">(+0.03%)</text></g>
<rect x="6.2" y="22.6" width="38.4" height="15.2" rx="2.5" fill="#fff" stroke="#e06a78" stroke-opacity="0.75"/>
<text x="11.2" y="33.5" font-size="8.7" fill="#e84a5a" textLength="22.8" lengthAdjust="spacingAndGlyphs">139.38</text><text x="34.4" y="31.4" font-size="7" fill="#e84a5a">5</text>
<text x="49.9" y="33" font-size="8" fill="#131722">0.2</text>
<rect x="65.7" y="22.6" width="38.4" height="15.2" rx="2.5" fill="#fff" stroke="#5a7de0" stroke-opacity="0.75"/>
<text x="70.7" y="33.5" font-size="8.7" fill="#3d6be8" textLength="22.8" lengthAdjust="spacingAndGlyphs">139.38</text><text x="93.9" y="31.4" font-size="7" fill="#3d6be8">7</text>
<text x="6.4" y="53" font-size="8.4" fill="#131722">Vol</text>
<text x="26.7" y="53" font-size="8.4" fill="#089981">44.963K</text>
</svg>
</body></html>
